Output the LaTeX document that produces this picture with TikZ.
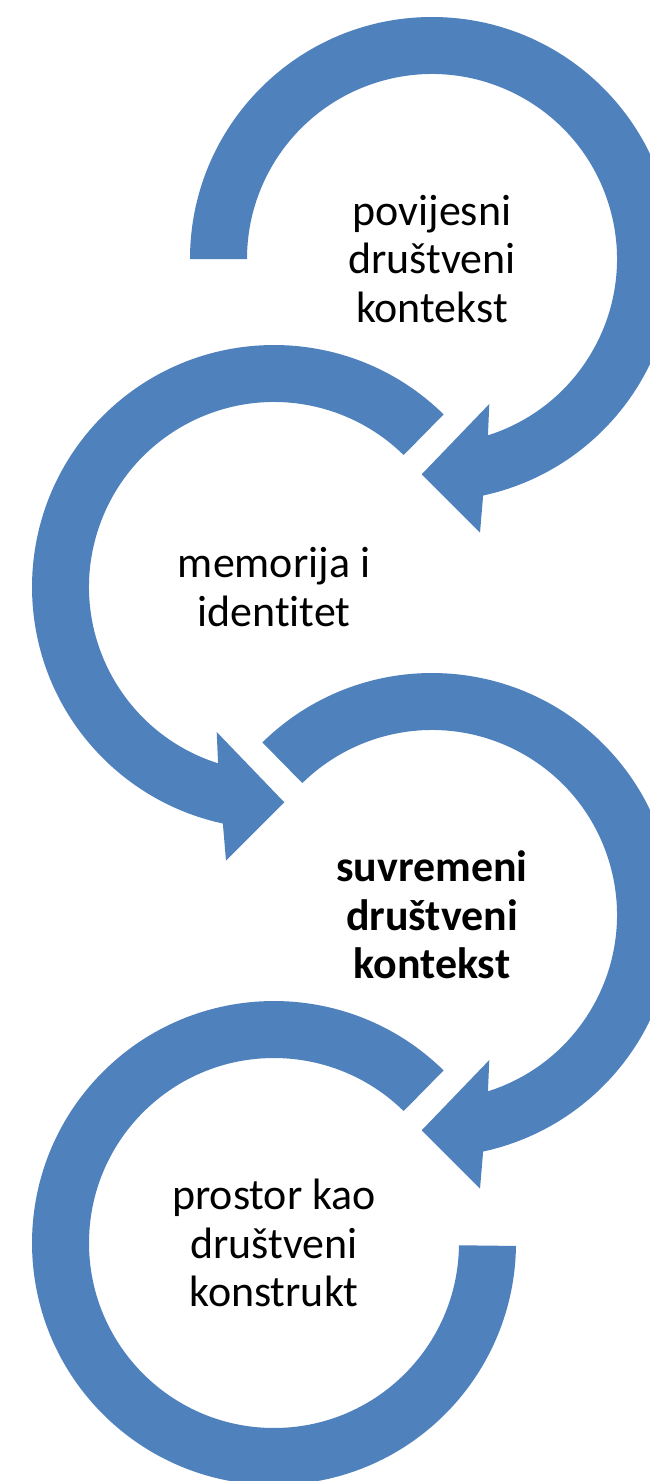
\documentclass[tikz,border=0pt]{standalone}
\usepackage{fontspec}
\setmainfont{Carlito}[Ligatures={NoCommon}]
\usetikzlibrary{calc}
\definecolor{ringblue}{HTML}{4F81BD}

\begin{document}
\begin{tikzpicture}[
    x=0.03cm, y=0.03cm,
    ring/.style={fill=ringblue, draw=none},
    steplabel/.style={
      font=\fontsize{37.5}{41.3}\selectfont,
      align=center, text=black, inner sep=0pt
    },
    boldlabel/.style={steplabel, font=\fontsize{37.5}{41.3}\selectfont\bfseries},
  ]
  \useasboundingbox (0,0) rectangle (650,-1481);

  % --- Centres ---
  \coordinate (c1) at (432,-259);
  \coordinate (c2) at (274,-587);
  \coordinate (c3) at (432,-915);
  \coordinate (c4) at (274,-1243);

  % --- Circular arrows ---
  \begin{scope}[shift={(c1)}]
    \fill[ring] (180:242) arc[start angle=180, end angle=-77.8, radius=242]
      -- (48,-273.7) -- (-10.3,-215.3) -- (57.3,-145) -- (-72.4:185)
      arc[start angle=-72.4, end angle=180, radius=185] -- cycle;
  \end{scope}

  \begin{scope}[shift={(c2)}]
    \fill[ring] (45.5:242) arc[start angle=45.5, end angle=257.8, radius=242]
      -- (-48,-273.7) -- (10.3,-215.3) -- (-57.3,-145) -- (252.4:185)
      arc[start angle=252.4, end angle=45.5, radius=185] -- cycle;
  \end{scope}

  \begin{scope}[shift={(c3)}]
    \fill[ring] (134.5:242) arc[start angle=134.5, end angle=-77.8, radius=242]
      -- (48,-273.7) -- (-10.3,-215.3) -- (57.3,-145) -- (-72.4:185)
      arc[start angle=-72.4, end angle=134.5, radius=185] -- cycle;
  \end{scope}

  \begin{scope}[shift={(c4)}]
    \fill[ring] (45.5:242) arc[start angle=45.5, end angle=359.3, radius=242]
      -- (359.3:185)
      arc[start angle=359.3, end angle=45.5, radius=185] -- cycle;
  \end{scope}

  % --- Labels ---
  \node[steplabel] (povijesni) at (c1) {povijesni\\društveni\\kontekst};
  \node[steplabel] (memorija) at (c2) {memorija i\\identitet};
  \node[boldlabel] (suvremeni) at (c3) {suvremeni\\društveni\\kontekst};
  \node[steplabel] (prostor) at (c4) {prostor kao\\društveni\\konstrukt};

\end{tikzpicture}
\end{document}
